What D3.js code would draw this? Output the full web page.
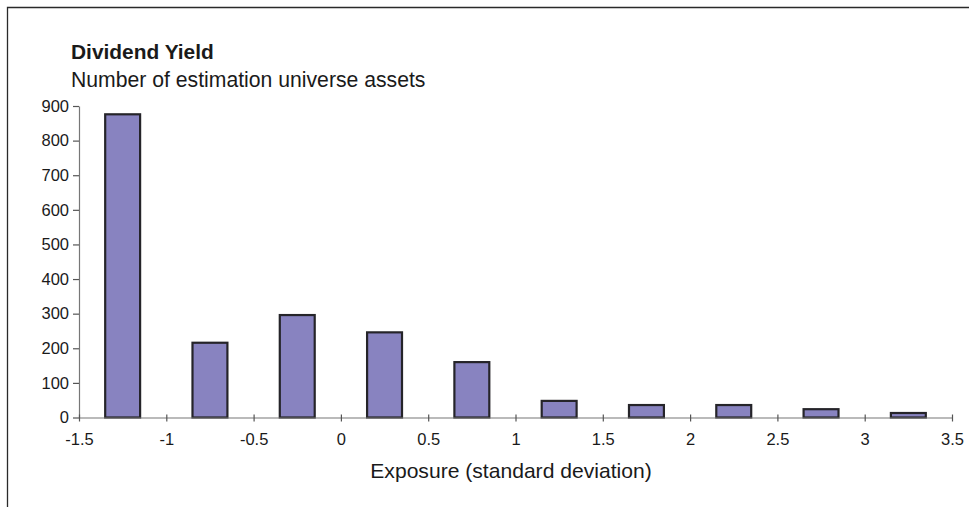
<!DOCTYPE html>
<html>
<head>
<meta charset="utf-8">
<script src="https://cdn.jsdelivr.net/npm/d3@7"></script>
<style>
  html, body { margin: 0; padding: 0; background: #fff; }
  svg { display: block; font-family: "Liberation Sans", Arial, sans-serif; }
</style>
</head>
<body>
<svg id="chart" width="969" height="507"></svg>
<script>
// Data
const binCenters = [-1.25, -0.75, -0.25, 0.25, 0.75, 1.25, 1.75, 2.25, 2.75, 3.25];
const assetCounts = [876, 216, 296, 246, 160, 48, 36, 36, 24, 13];
const binWidth = 0.2;
const xTicks = [-1.5, -1, -0.5, 0, 0.5, 1, 1.5, 2, 2.5, 3, 3.5];
const yTicks = [0, 100, 200, 300, 400, 500, 600, 700, 800, 900];
const titleText = "Dividend Yield";
const subtitleText = "Number of estimation universe assets";
const xLabelText = "Exposure (standard deviation)";

const svg = d3.select("#chart");

// Frame
svg.append("path")
  .attr("d", "M7.5,1000 L7.5,7.5 L1000,7.5")
  .attr("fill", "none")
  .attr("stroke", "#2a2a2a")
  .attr("stroke-width", 1.3);

const x = d3.scaleLinear().domain([-1.5, 3.5]).range([79, 952]);
const y = d3.scaleLinear().domain([0, 900]).range([417.5, 106]);

// Title
svg.append("text")
  .attr("x", 71).attr("y", 58.5)
  .attr("font-size", "20.9px").attr("font-weight", "bold")
  .attr("fill", "#1a1a1a")
  .text(titleText);
svg.append("text")
  .attr("x", 71).attr("y", 87.3)
  .attr("font-size", "21.2px")
  .attr("fill", "#1a1a1a")
  .text(subtitleText);

// Bars
svg.append("g").selectAll("rect")
  .data(binCenters.map((c, i) => ({c, v: assetCounts[i]})))
  .join("rect")
  .attr("x", d => x(d.c - binWidth / 2))
  .attr("width", d => x(d.c + binWidth / 2) - x(d.c - binWidth / 2))
  .attr("y", d => y(d.v))
  .attr("height", d => y(0) - y(d.v))
  .attr("fill", "#8883c0")
  .attr("stroke", "#252429")
  .attr("stroke-width", 2.2);

// Y axis
const yAxis = svg.append("g")
  .attr("transform", `translate(${x(-1.5)},0)`)
  .call(d3.axisLeft(y).tickValues(yTicks).tickSize(6).tickPadding(4).tickSizeOuter(0));
yAxis.select(".domain").attr("stroke", "#777").attr("stroke-width", 1.2);
yAxis.selectAll(".tick line").attr("stroke", "#555").attr("stroke-width", 1.2);
yAxis.selectAll(".tick text")
  .attr("font-size", "16.5px").attr("font-family", "Liberation Sans, Arial, sans-serif")
  .attr("fill", "#1a1a1a");

// X axis
const xAxis = svg.append("g")
  .attr("transform", `translate(0,${y(0)})`)
  .call(d3.axisBottom(x).tickValues(xTicks).tickSize(4).tickSizeOuter(0).tickFormat(d => String(d)));
xAxis.select(".domain").attr("stroke", "#777").attr("stroke-width", 1.2);
xAxis.selectAll(".tick line").attr("y1", -3).attr("y2", 4).attr("stroke", "#555").attr("stroke-width", 1.2);
xAxis.selectAll(".tick text")
  .attr("y", 27.5).attr("dy", null)
  .attr("font-size", "16.5px").attr("font-family", "Liberation Sans, Arial, sans-serif")
  .attr("fill", "#1a1a1a");
xAxis.raise();

// X label
svg.append("text")
  .attr("x", 511).attr("y", 478)
  .attr("text-anchor", "middle")
  .attr("font-size", "21.1px")
  .attr("fill", "#1a1a1a")
  .text(xLabelText);
</script>
</body>
</html>
